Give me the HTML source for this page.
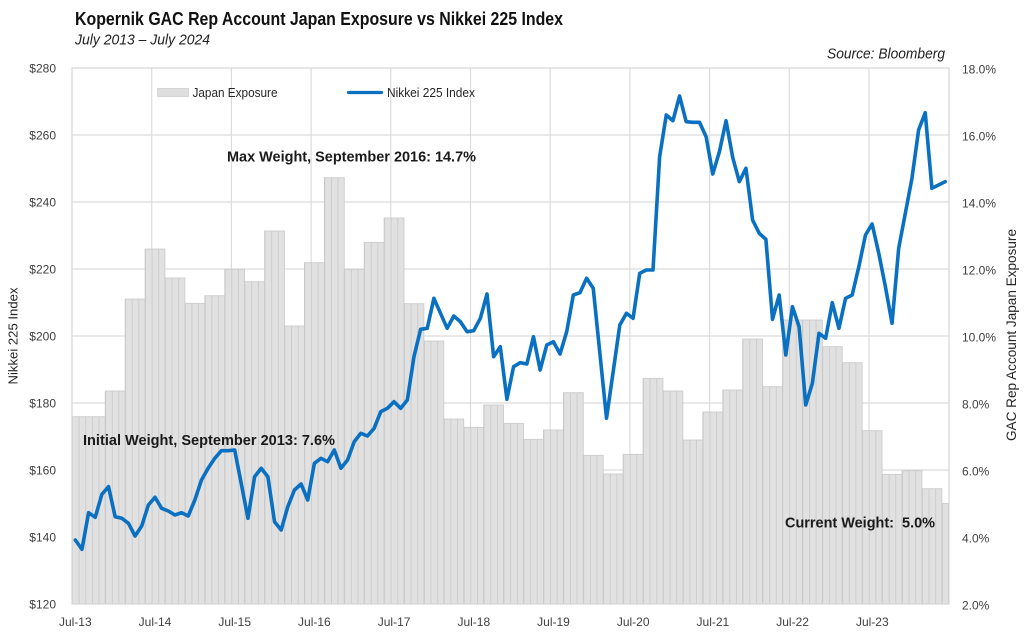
<!DOCTYPE html>
<html>
<head>
<meta charset="utf-8">
<style>
html,body{margin:0;padding:0;background:#fff;}
svg{display:block;}
text{font-family:"Liberation Sans",Arial,sans-serif;}
.ax{font-size:12px;fill:#404040;}
.an{font-size:15px;font-weight:bold;fill:#1a1a1a;}
</style>
</head>
<body>
<svg width="1024" height="637" viewBox="0 0 1024 637" xmlns="http://www.w3.org/2000/svg">
<defs>
<pattern id="bp" patternUnits="userSpaceOnUse" x="72" y="0" width="6.64" height="20">
<rect x="0" y="0" width="6.64" height="20" fill="#e1e1e1"/>
<line x1="0.4" y1="0" x2="0.4" y2="20" stroke="#c9c9c9" stroke-width="0.8"/>
</pattern>
</defs>
<rect x="0" y="0" width="1024" height="637" fill="#fff"/>

<!-- Title -->
<text x="75" y="25" font-size="18" font-weight="bold" fill="#111" textLength="488" lengthAdjust="spacingAndGlyphs">Kopernik GAC Rep Account Japan Exposure vs Nikkei 225 Index</text>
<text x="75" y="44.5" font-size="15" font-style="italic" fill="#222" textLength="135" lengthAdjust="spacingAndGlyphs">July 2013 – July 2024</text>
<text x="827" y="58.5" font-size="15" font-style="italic" fill="#222" textLength="118" lengthAdjust="spacingAndGlyphs">Source: Bloomberg</text>

<!-- Gridlines -->
<g stroke="#dcdcdc" stroke-width="1.2">
<line x1="72" y1="135" x2="949" y2="135"/>
<line x1="72" y1="202" x2="949" y2="202"/>
<line x1="72" y1="269" x2="949" y2="269"/>
<line x1="72" y1="336" x2="949" y2="336"/>
<line x1="72" y1="403" x2="949" y2="403"/>
<line x1="72" y1="470" x2="949" y2="470"/>
<line x1="72" y1="537" x2="949" y2="537"/>
<line x1="151.7" y1="68" x2="151.7" y2="604"/>
<line x1="231.4" y1="68" x2="231.4" y2="604"/>
<line x1="311.1" y1="68" x2="311.1" y2="604"/>
<line x1="390.8" y1="68" x2="390.8" y2="604"/>
<line x1="470.5" y1="68" x2="470.5" y2="604"/>
<line x1="550.2" y1="68" x2="550.2" y2="604"/>
<line x1="629.9" y1="68" x2="629.9" y2="604"/>
<line x1="709.6" y1="68" x2="709.6" y2="604"/>
<line x1="789.3" y1="68" x2="789.3" y2="604"/>
<line x1="869.0" y1="68" x2="869.0" y2="604"/>
</g>

<!-- Bars -->
<g fill="url(#bp)" stroke="#c9c9c9" stroke-width="0.8">
<rect x="72" y="416.7" width="33.2" height="187.3"/>
<rect x="105.2" y="391" width="19.92" height="213"/>
<rect x="125.12" y="299" width="19.92" height="305"/>
<rect x="145.04" y="249" width="19.92" height="355"/>
<rect x="164.96" y="278" width="19.92" height="326"/>
<rect x="184.88" y="303.3" width="19.92" height="300.7"/>
<rect x="204.8" y="295.7" width="19.92" height="308.3"/>
<rect x="224.72" y="269.3" width="19.92" height="334.7"/>
<rect x="244.64" y="281.7" width="19.92" height="322.3"/>
<rect x="264.56" y="231" width="19.92" height="373"/>
<rect x="284.48" y="326" width="19.92" height="278"/>
<rect x="304.4" y="262.7" width="19.92" height="341.3"/>
<rect x="324.32" y="177.7" width="19.92" height="426.3"/>
<rect x="344.24" y="269.3" width="19.92" height="334.7"/>
<rect x="364.16" y="242.3" width="19.92" height="361.7"/>
<rect x="384.08" y="218" width="19.92" height="386"/>
<rect x="404.0" y="303.7" width="19.92" height="300.3"/>
<rect x="423.92" y="341" width="19.92" height="263"/>
<rect x="443.84" y="419" width="19.92" height="185"/>
<rect x="463.76" y="427.3" width="19.92" height="176.7"/>
<rect x="483.68" y="405" width="19.92" height="199"/>
<rect x="503.6" y="423.3" width="19.92" height="180.7"/>
<rect x="523.52" y="439.3" width="19.92" height="164.7"/>
<rect x="543.44" y="430" width="19.92" height="174"/>
<rect x="563.36" y="392.7" width="19.92" height="211.3"/>
<rect x="583.28" y="455.3" width="19.92" height="148.7"/>
<rect x="603.2" y="474" width="19.92" height="130"/>
<rect x="623.12" y="454.3" width="19.92" height="149.7"/>
<rect x="643.04" y="378.3" width="19.92" height="225.7"/>
<rect x="662.96" y="391" width="19.92" height="213"/>
<rect x="682.88" y="440" width="19.92" height="164"/>
<rect x="702.8" y="412" width="19.92" height="192"/>
<rect x="722.72" y="390" width="19.92" height="214"/>
<rect x="742.64" y="339" width="19.92" height="265"/>
<rect x="762.56" y="386.7" width="19.92" height="217.3"/>
<rect x="782.48" y="320" width="19.92" height="284"/>
<rect x="802.4" y="320" width="19.92" height="284"/>
<rect x="822.32" y="346.7" width="19.92" height="257.3"/>
<rect x="842.24" y="362.7" width="19.92" height="241.3"/>
<rect x="862.16" y="430.7" width="19.92" height="173.3"/>
<rect x="882.08" y="474.3" width="19.92" height="129.7"/>
<rect x="902.0" y="470.7" width="19.92" height="133.3"/>
<rect x="921.92" y="488.7" width="19.92" height="115.3"/>
<rect x="941.84" y="503.5" width="6.64" height="100.5"/>
</g>

<!-- Plot border -->
<rect x="72" y="68" width="877" height="536" fill="none" stroke="#d6d6d6" stroke-width="1.2"/>

<!-- Nikkei line -->
<polyline fill="none" stroke="#0a70c2" stroke-width="3.6" stroke-linejoin="round" stroke-linecap="round" points="
75.32,540 81.96,549.3 88.6,512.7 95.24,517.3 101.88,494.3 108.52,486.7 115.16,516.7 121.8,518.3 128.44,523.3 135.08,536
141.72,526 148.36,505 155.0,497.3 161.64,508.3 168.28,511 174.92,515 181.56,512.7 188.2,516 194.84,500 201.48,480
208.12,468.3 214.76,458.3 221.4,450.7 228.04,450.7 234.68,450 241.32,484 247.96,518.3 254.6,476.7 261.24,468.3 267.88,476.7
274.52,521.7 281.16,530 287.8,506.7 294.44,490 301.08,484 307.72,500 314.36,463.3 321.0,458.3 327.64,461.7 334.28,450
340.92,468.3 347.56,460 354.2,441.7 360.84,433.3 367.48,436 374.12,428.3 380.76,411.7 387.4,408.3 394.04,401.7 400.68,408.3
407.32,400 413.96,356.7 420.6,329.3 427.24,328.3 433.88,298.3 440.52,313.3 447.16,328.3 453.8,316 460.44,321.7 467.08,331.7
473.72,330.7 480.36,318.3 487.0,294 493.64,356.7 500.28,346.7 506.92,399.3 513.56,366.7 520.2,362.7 526.84,364 533.48,336.7
540.12,370 546.76,345 553.4,341.7 560.04,354 566.68,331.7 573.32,295 579.96,292.7 586.6,278.3 593.24,288.3 599.88,353.3
606.52,418.3 613.16,371.7 619.8,325 626.44,313.3 633.08,318.3 639.72,273.3 646.36,270 653.0,270 659.64,156.7 666.28,115
672.92,120.7 679.56,96 686.2,121.7 692.84,122.3 699.48,122.3 706.12,136.7 712.76,174 719.4,151.7 726.04,120.7 732.68,157.3
739.32,181.7 745.96,168.3 752.6,220 759.24,233.3 765.88,239.3 772.52,319.3 779.16,295 785.8,355 792.44,306.7 799.08,326.7
805.72,405 812.36,383.3 819.0,333.3 825.64,338.3 832.28,302.7 838.92,328.3 845.56,298.3 852.2,295 858.84,266.7 865.48,235
872.12,224 878.76,253.3 885.4,286.7 892.04,323.3 898.68,248.3 905.32,213.3 911.96,178.3 918.6,130 925.24,112.7 931.88,188.3
938.52,185 945.16,181.7"/>

<!-- Legend -->
<rect x="157.5" y="88.5" width="31" height="8" fill="#dedede" stroke="#cfcfcf" stroke-width="0.8"/>
<text x="192.5" y="97" font-size="13" fill="#262626" textLength="85" lengthAdjust="spacingAndGlyphs">Japan Exposure</text>
<line x1="348.5" y1="92.5" x2="381.5" y2="92.5" stroke="#0a70c2" stroke-width="3.2" stroke-linecap="round"/>
<text x="387" y="97" font-size="13" fill="#262626" textLength="88" lengthAdjust="spacingAndGlyphs">Nikkei 225 Index</text>

<!-- Annotations -->
<text class="an" x="227" y="161.5" textLength="249" lengthAdjust="spacingAndGlyphs">Max Weight, September 2016: 14.7%</text>
<text class="an" x="83" y="445" textLength="252" lengthAdjust="spacingAndGlyphs">Initial Weight, September 2013: 7.6%</text>
<text class="an" x="785" y="527.5" textLength="150" lengthAdjust="spacingAndGlyphs" xml:space="preserve">Current Weight:  5.0%</text>

<!-- Left axis labels -->
<g class="ax" text-anchor="end">
<text x="56" y="72.5">$280</text>
<text x="56" y="139.5">$260</text>
<text x="56" y="206.5">$240</text>
<text x="56" y="273.5">$220</text>
<text x="56" y="340.5">$200</text>
<text x="56" y="407.5">$180</text>
<text x="56" y="474.5">$160</text>
<text x="56" y="541.5">$140</text>
<text x="56" y="608.5">$120</text>
</g>

<!-- Right axis labels -->
<g class="ax">
<text x="962" y="73.5">18.0%</text>
<text x="962" y="140.5">16.0%</text>
<text x="962" y="207.5">14.0%</text>
<text x="962" y="274.5">12.0%</text>
<text x="962" y="341.5">10.0%</text>
<text x="962" y="408.5">8.0%</text>
<text x="962" y="475.5">6.0%</text>
<text x="962" y="542.5">4.0%</text>
<text x="962" y="609.5">2.0%</text>
</g>

<!-- X axis labels -->
<g class="ax" text-anchor="middle">
<text x="75.3" y="626">Jul-13</text>
<text x="155.0" y="626">Jul-14</text>
<text x="234.7" y="626">Jul-15</text>
<text x="314.4" y="626">Jul-16</text>
<text x="394.1" y="626">Jul-17</text>
<text x="473.8" y="626">Jul-18</text>
<text x="553.5" y="626">Jul-19</text>
<text x="633.2" y="626">Jul-20</text>
<text x="712.9" y="626">Jul-21</text>
<text x="792.6" y="626">Jul-22</text>
<text x="872.3" y="626">Jul-23</text>
</g>

<!-- Axis titles -->
<text transform="translate(17.5,336) rotate(-90)" text-anchor="middle" font-size="12.5" fill="#262626" textLength="97" lengthAdjust="spacingAndGlyphs">Nikkei 225 Index</text>
<text transform="translate(1016,335) rotate(-90)" text-anchor="middle" font-size="13.5" fill="#262626" textLength="212" lengthAdjust="spacingAndGlyphs">GAC Rep Account Japan Exposure</text>
</svg>
</body>
</html>
